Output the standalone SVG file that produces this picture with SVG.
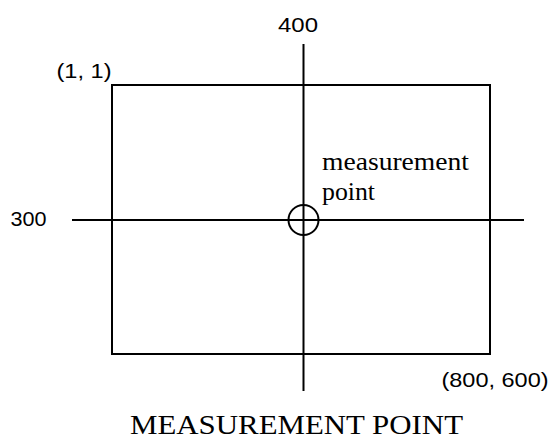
<svg xmlns="http://www.w3.org/2000/svg" width="550" height="440" viewBox="0 0 550 440">
<style>
.ln{stroke:#000;stroke-width:2;fill:none}
.sans{font-family:"Liberation Sans",Arial,sans-serif;font-size:20px;fill:#000}
.serif{font-family:"Liberation Serif","Times New Roman",serif;fill:#000}
</style>
<rect width="550" height="440" fill="#fff"/>
<g id="screen">
<rect class="ln" x="112" y="85" width="378" height="269"/>
</g>
<g id="connectors">
<line class="ln" x1="303.5" y1="44" x2="303.5" y2="391"/>
<line class="ln" x1="72" y1="220" x2="524" y2="220"/>
</g>
<g id="point">
<circle class="ln" cx="303.5" cy="220" r="15"/>
</g>
<g id="labels">
<text class="sans" x="278" y="32" textLength="40" lengthAdjust="spacingAndGlyphs">400</text>
<text class="sans" x="10.5" y="225.5" textLength="36" lengthAdjust="spacingAndGlyphs">300</text>
<text class="sans" x="56.5" y="78" textLength="55" lengthAdjust="spacingAndGlyphs">(1, 1)</text>
<text class="sans" x="441.5" y="387" textLength="107" lengthAdjust="spacingAndGlyphs">(800, 600)</text>
<text class="serif" x="322" y="170" font-size="25" textLength="147" lengthAdjust="spacingAndGlyphs">measurement</text>
<text class="serif" x="322" y="200" font-size="25" textLength="53" lengthAdjust="spacingAndGlyphs">point</text>
<text class="serif" x="130" y="434" font-size="27" textLength="333" lengthAdjust="spacingAndGlyphs">MEASUREMENT POINT</text>
</g>
</svg>
